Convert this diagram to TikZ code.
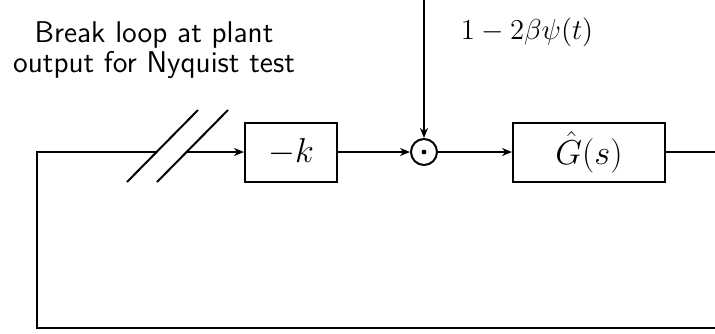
\documentclass[tikz,border=0pt]{standalone}
\usetikzlibrary{arrows.meta}
\begin{document}
\begin{tikzpicture}[x=0.5pt,y=-0.5pt,line width=1pt,
  blk/.style={draw,line width=1pt,minimum height=29.5pt,inner sep=0pt,font=\fontsize{16}{18}\selectfont},
  mult/.style={draw,circle,line width=1pt,minimum size=13pt,inner sep=0pt},
  arr/.style={-{Stealth[length=5pt,width=4pt]}},
  lbl/.style={font=\fontsize{14.5}{17}\selectfont}]
\useasboundingbox (0,0) rectangle (715,333);
\node[blk,minimum width=46pt] (k) at (291,152) {$-k$};
\node[mult] (m) at (424,152) {};
\fill (m.center) circle (1.2pt);
\node[blk,minimum width=76pt] (g) at (589,152) {$\hat G(s)$};
\node[lbl] (sig) at (527,32) {$1-2\beta\psi(t)$};
\node[font=\sffamily\fontsize{15}{15}\selectfont,align=center] (brk) at (154,50) {Break loop at plant\\output for Nyquist test};
\coordinate (top) at (424,0);
\coordinate (out) at (715,152);
\coordinate (outb) at (715,328);
\coordinate (bl) at (37,328);
\coordinate (tl) at (37,152);
\coordinate (c1) at (157,152);
\coordinate (c2) at (187,152);
\draw (127,182) -- (198,110);
\draw (157,182) -- (228,110);
\draw (outb) -- (bl) -- (tl) -- (c1);
\draw[arr] (c2) -- (k.west);
\draw[arr] (k.east) -- (m.west);
\draw[arr] (top) -- (m.north);
\draw[arr] (m.east) -- (g.west);
\draw (g.east) -- (out);
\end{tikzpicture}
\end{document}
